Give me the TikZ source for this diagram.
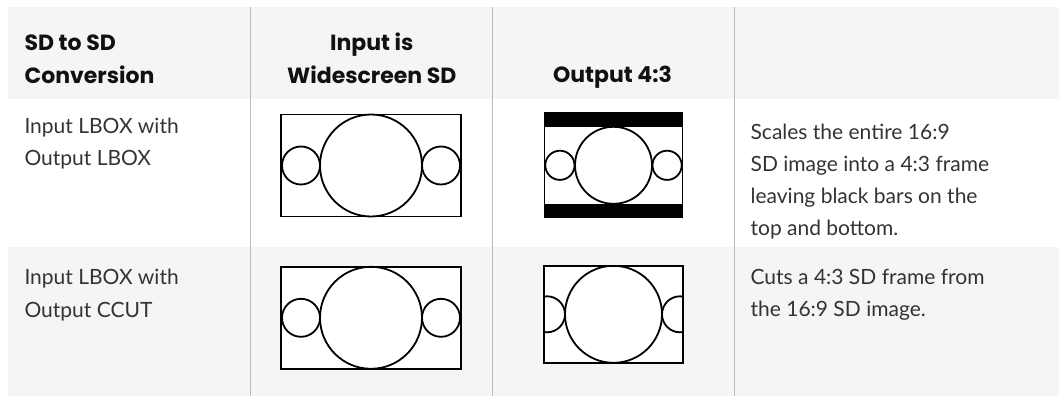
\documentclass[tikz,border=0pt]{standalone}
\usepackage{fontspec}
\setmainfont{Lato}
\newfontfamily\headfont{Poppins}
\usetikzlibrary{positioning, calc}
\definecolor{rowbg}  {RGB}{245,245,245}
\definecolor{rulegr} {RGB}{188,188,188}
\definecolor{txtbody}{RGB}{ 51, 51, 51}
\definecolor{txthead}{RGB}{ 17, 17, 17}
\tikzset{
  headcell/.style={font=\headfont\fontsize{22}{33}\selectfont\bfseries, text=txthead, inner sep=0pt},
  bodycell/.style={font=\fontsize{21}{32.5}\selectfont, text=txtbody, inner sep=0pt, align=left},
  desccell/.style={font=\fontsize{21}{31.7}\selectfont, text=txtbody, inner sep=0pt, align=left},
  colrule/.style={draw=rulegr, line width=1pt},
  wideframe/.style={rectangle, draw=black, fill=white, line width=1.8pt, inner sep=0pt,
    outer sep=0pt, minimum width=180pt, minimum height=102pt},
  stdframe/.style={rectangle, draw=black, fill=white, line width=1.8pt, inner sep=0pt,
    outer sep=0pt, minimum width=138pt, minimum height=104pt},
  ring/.style={draw=black, line width=1.8pt},
}

\begin{document}
\begin{tikzpicture}[x=1pt, y=-1pt]
\useasboundingbox (0,0) rectangle (1059,396);
% table background
\fill[rowbg] (8,7) rectangle (1059,99);
\fill[rowbg] (8,247) rectangle (1059,396);
\foreach \cx in {250.8, 492.8, 734.7}
  \draw[colrule] (\cx,7) -- (\cx,396);
% header (anchors sit on the last line)
\node[headcell, align=left, anchor=base west] (hconv) at (24.3,83.8) {SD to SD\\Conversion};
\node[headcell, align=center, anchor=base] (hin) at (371.8,83.8) {Input is\\Widescreen SD};
\node[headcell, anchor=base] (hout) at (612.5,82.8) {Output 4:3};
% row 1
\node[bodycell, anchor=base west] (mode1) at (24.3,165.5) {Input LBOX with\\Output LBOX};
\node[desccell, anchor=base west] (desc1) at (750.4,235) {Scales the entire 16:9\\SD image into a 4:3 frame\\leaving black bars on the\\top and bottom.};
\node[wideframe] (in1) at (371,165.5) {};
\draw[ring] (in1.center) circle[radius=51pt];
\draw[ring] ($(in1.center)+(-70,0)$) circle[radius=19pt];
\draw[ring] ($(in1.center)+(70,0)$) circle[radius=19pt];
\node[stdframe] (out1) at (613.5,165.3) {};
\fill[black] (out1.north west) rectangle ($(out1.north east)+(0,13.5)$);
\fill[black] (out1.south west) rectangle ($(out1.south east)+(0,-13.5)$);
\draw[ring] (out1.center) circle[radius=38.5pt];
\draw[ring] ($(out1.center)+(-53.6,0)$) circle[radius=14.6pt];
\draw[ring] ($(out1.center)+(53.6,0)$) circle[radius=14.6pt];
% row 2
\node[bodycell, anchor=base west] (mode2) at (24.3,317.3) {Input LBOX with\\Output CCUT};
\node[desccell, anchor=base west] (desc2) at (750.4,316.2) {Cuts a 4:3 SD frame from\\the 16:9 SD image.};
\node[wideframe] (in2) at (371,317.8) {};
\draw[ring] (in2.center) circle[radius=51pt];
\draw[ring] ($(in2.center)+(-70,0)$) circle[radius=19pt];
\draw[ring] ($(in2.center)+(70,0)$) circle[radius=19pt];
\node[stdframe, minimum width=139pt, minimum height=97pt] (out2) at (613.5,314.3) {};
\begin{scope}
  \clip (out2.south west) rectangle (out2.north east);
  \draw[ring] (out2.center) circle[radius=48.5pt];
  \draw[ring] ($(out2.center)+(-66.5,0)$) circle[radius=18pt];
  \draw[ring] ($(out2.center)+(66.5,0)$) circle[radius=18pt];
\end{scope}
\draw[ring] (out2.south west) rectangle (out2.north east);
\end{tikzpicture}
\end{document}
